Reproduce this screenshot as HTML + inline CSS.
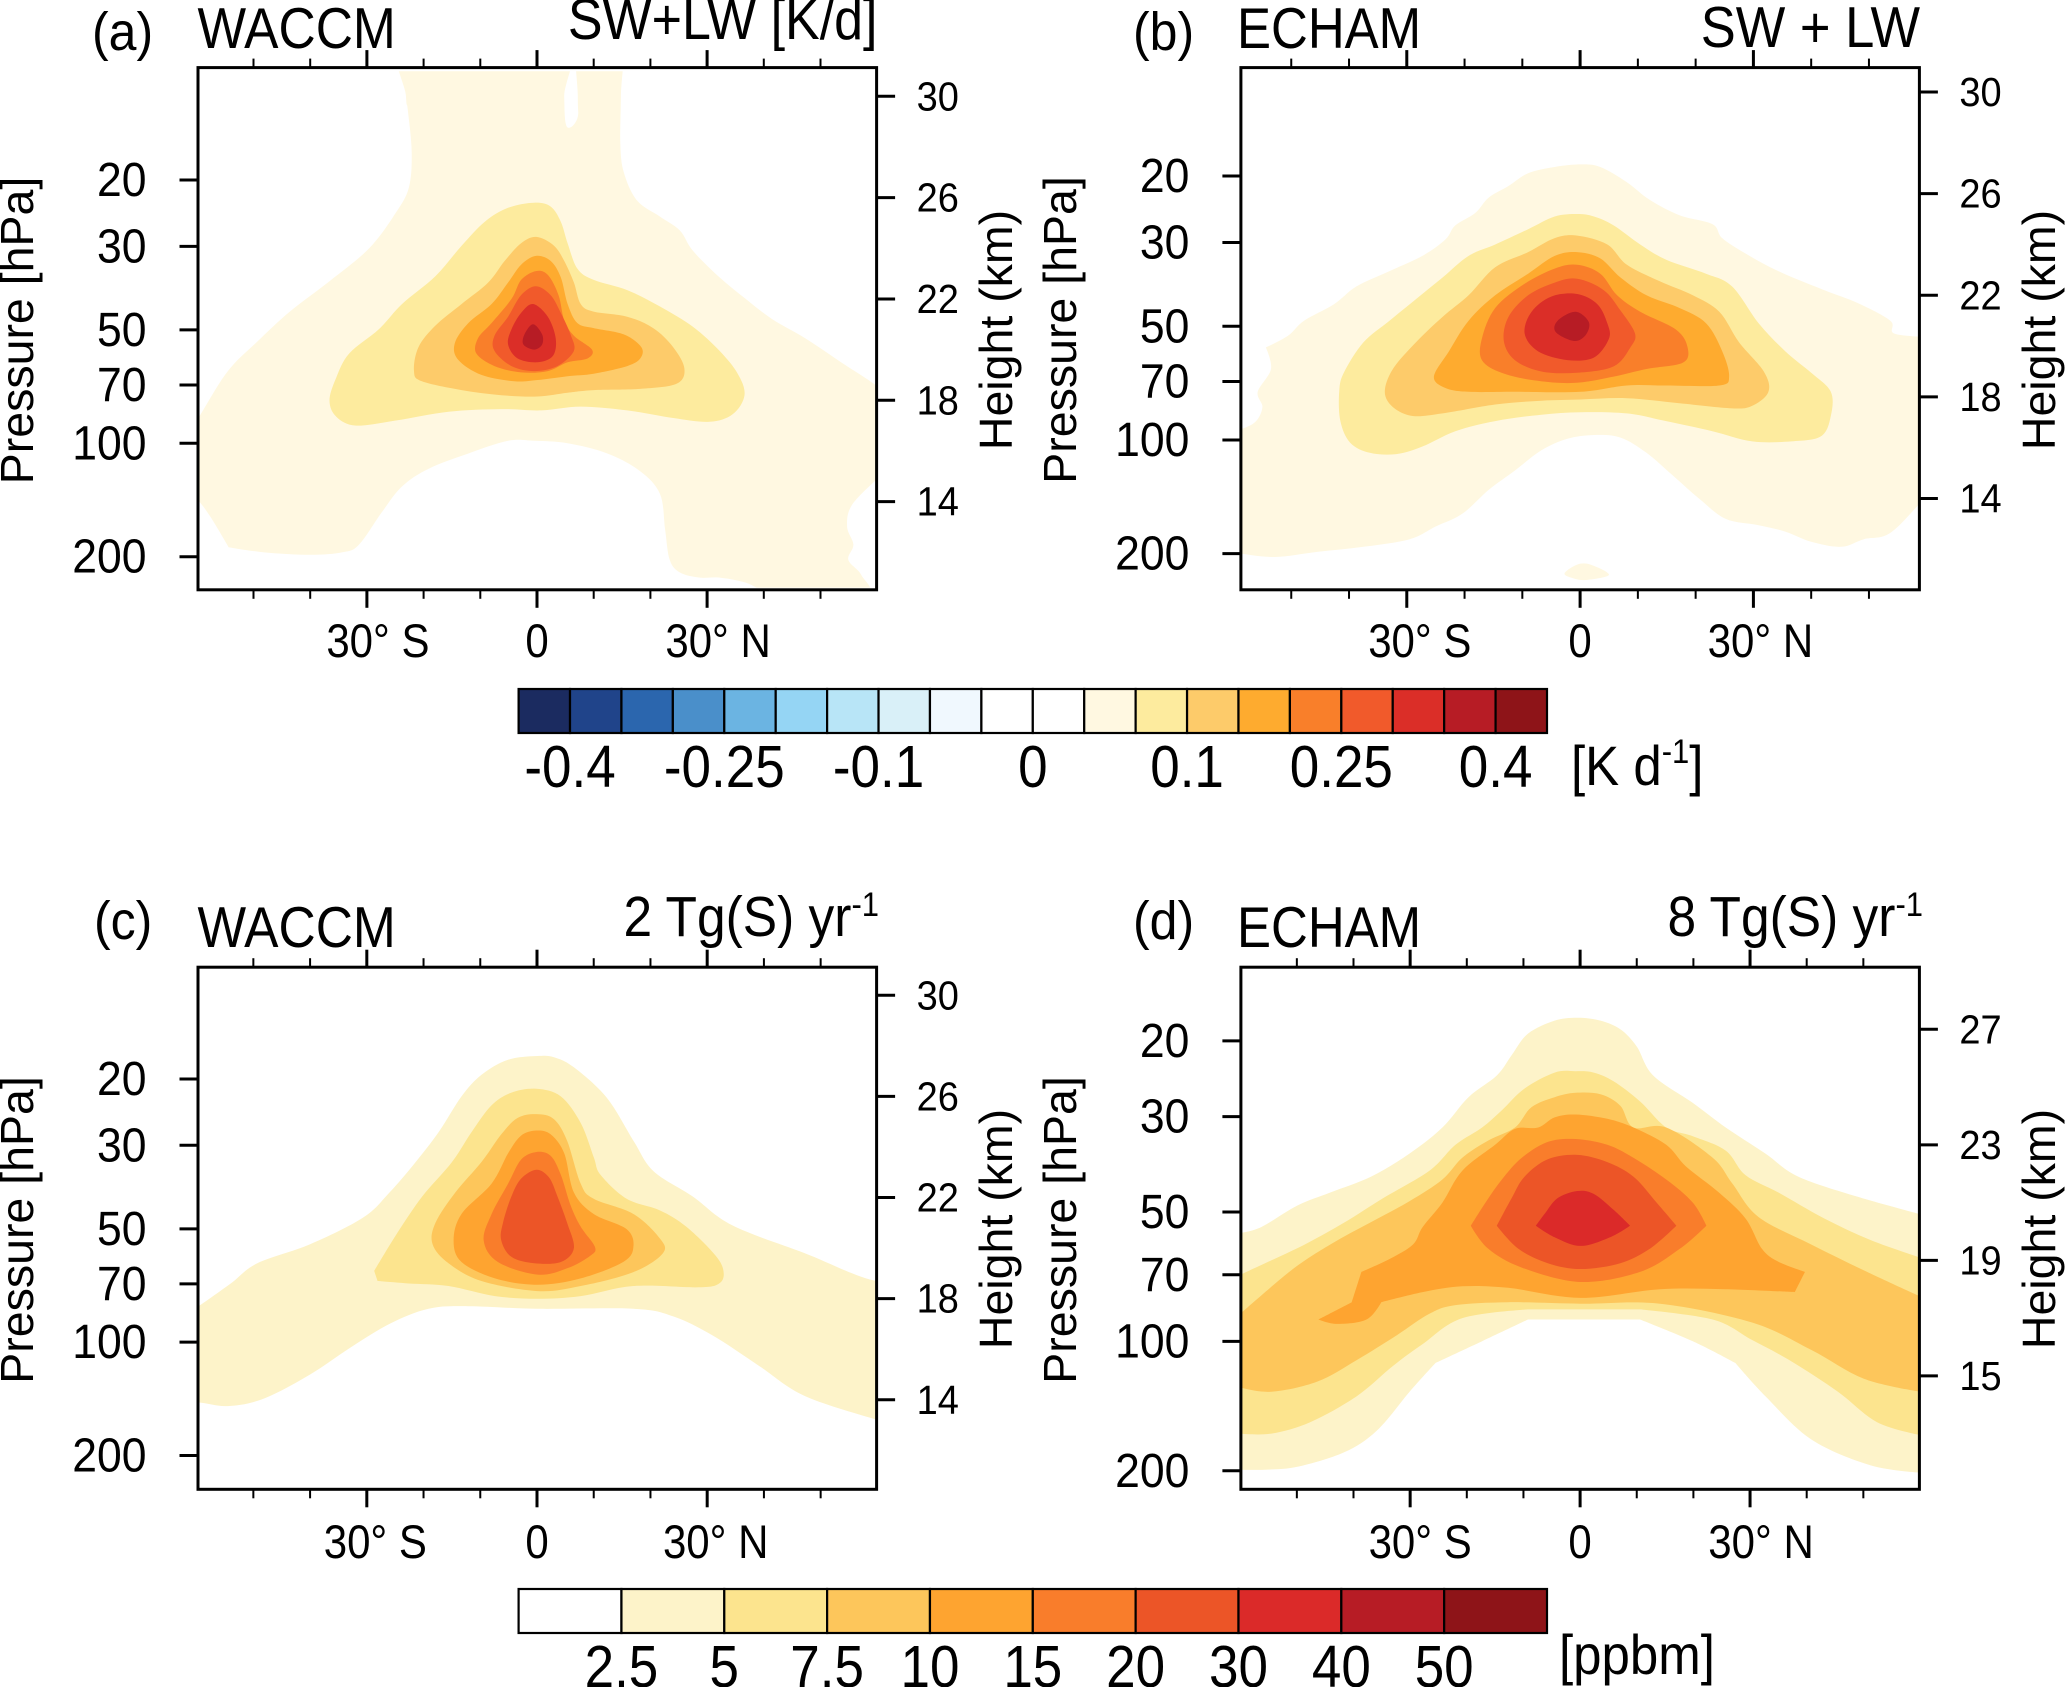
<!DOCTYPE html>
<html lang="en">
<head>
<meta charset="utf-8">
<title>WACCM and ECHAM heating rates and sulfur mixing ratio</title>
<style>
html,body{margin:0;padding:0;background:#fff;}
svg{display:block;}
text{font-family:"Liberation Sans",Arial,sans-serif;fill:#000;}
</style>
</head>
<body>
<svg id="figure" xmlns="http://www.w3.org/2000/svg" width="2067" height="1687" viewBox="0 0 2067 1687">
<rect x="0" y="0" width="2067" height="1687" fill="#fff"/>
<defs>
<clipPath id="clip-a"><rect x="198" y="71.3" width="678.6" height="516.3"/></clipPath>
<clipPath id="clip-b"><rect x="1240.9" y="67.6" width="678.5" height="522.2"/></clipPath>
<clipPath id="clip-c"><rect x="198" y="967.2" width="678.6" height="522.1"/></clipPath>
<clipPath id="clip-d"><rect x="1240.9" y="967.2" width="678.5" height="522.1"/></clipPath>
</defs>
<g id="plots"></g>

<text transform="translate(92 50) scale(1 1.08)" font-size="50">(a)</text>
<text transform="translate(197.5 48) scale(1 1.12)" font-size="51.5">WACCM</text>
<text transform="translate(877.5 39) scale(1 1.1)" font-size="52" text-anchor="end">SW+LW [K/d]</text>
<text transform="translate(1133 50) scale(1 1.08)" font-size="50">(b)</text>
<text transform="translate(1237 48) scale(1 1.12)" font-size="51">ECHAM</text>
<text transform="translate(1920 47) scale(1 1.1)" font-size="52.5" text-anchor="end">SW + LW</text>
<text transform="translate(94 939) scale(1 1.08)" font-size="50">(c)</text>
<text transform="translate(197.5 947) scale(1 1.12)" font-size="51.5">WACCM</text>
<text transform="translate(879 936) scale(1 1.1)" font-size="51.5" text-anchor="end">2 Tg(S) yr<tspan font-size="31" dy="-18">-1</tspan></text>
<text transform="translate(1133 939) scale(1 1.08)" font-size="50">(d)</text>
<text transform="translate(1237 947) scale(1 1.12)" font-size="51">ECHAM</text>
<text transform="translate(1923 936) scale(1 1.1)" font-size="51.5" text-anchor="end">8 Tg(S) yr<tspan font-size="31" dy="-18">-1</tspan></text>

<text transform="translate(33 330.5) rotate(-90)" font-size="46.5" text-anchor="middle">Pressure [hPa]</text>
<text transform="translate(1076 330) rotate(-90)" font-size="46.5" text-anchor="middle">Pressure [hPa]</text>
<text transform="translate(33 1230) rotate(-90)" font-size="46.5" text-anchor="middle">Pressure [hPa]</text>
<text transform="translate(1076 1230) rotate(-90)" font-size="46.5" text-anchor="middle">Pressure [hPa]</text>
<text transform="translate(1012 330) rotate(-90)" font-size="46.5" text-anchor="middle">Height (km)</text>
<text transform="translate(2055 330) rotate(-90)" font-size="46.5" text-anchor="middle">Height (km)</text>
<text transform="translate(1012 1229) rotate(-90)" font-size="46.5" text-anchor="middle">Height (km)</text>
<text transform="translate(2055 1229) rotate(-90)" font-size="46.5" text-anchor="middle">Height (km)</text>

<text transform="translate(1571 785) scale(1 1.1)" font-size="51">[K d<tspan font-size="31" dy="-20">-1</tspan><tspan dy="20">]</tspan></text>
<text transform="translate(1559 1674) scale(1 1.1)" font-size="51">[ppbm]</text>
</svg>

<script>
// ---- axis tick values ----
const latMajorTicks = [-30, 0, 30];
const latMinorTicks = [-50, -40, -20, -10, 10, 20, 40, 50];
const latTickLabels = ["30° S", "0", "30° N"];
const pressureTicks = [20, 30, 50, 70, 100, 200];
const heightTicksABC = [30, 26, 22, 18, 14];
const heightTicksD = [27, 23, 19, 15];

// ---- colour bar labels ----
const heatingBarLabels = ["-0.4", "-0.25", "-0.1", "0", "0.1", "0.25", "0.4"];
const sulfurBarLabels = ["2.5", "5", "7.5", "10", "15", "20", "30", "40", "50"];

// ---- palettes ----
const heatingColors = ["#1b2b60","#20448a","#2b66ae","#4a8fca","#6bb4e2","#95d5f4","#b8e5f7","#d9f0f8","#f0f8fe","#ffffff","#ffffff","#fff8e1","#fdeb9e","#fdcb6a","#feab2f","#f97f2a","#f15a2b","#db2e28","#b71c25","#8e1418"];
const sulfurColors = ["#ffffff","#fdf3c9","#fce48e","#fdc65b","#fea430","#f97d2b","#ec5527","#db2a29","#b71c25","#8e1418"];

// ---- contour boundaries, [latitude deg, height km, optional sharp-corner flag] ----
const aLevel1 = [[-23.5,33],[-23.1,30],[-22.8,29.5],[-22.1,27.8],[-22.6,26.4],[-24.9,25.4],[-29.6,24],[-36.6,22.7],[-43.6,21.5],[-49.4,20.3],[-54.7,19.1],[-60,17.2],[-64,15.9],[-64,14.9],[-60,14.1],[-57.6,13.4],[-54.4,12.2,1],[-48.3,12],[-40.1,11.9],[-34.3,12],[-31.4,12.3],[-27.3,13.6],[-23.8,14.6],[-19.1,15.3],[-12.1,15.9],[-5.1,16.4],[-0.5,16.4],[5.4,16.3],[12.4,15.9],[18.2,15.2],[21.7,14.3],[22.6,12.9],[23.4,11.7],[25.2,11.2],[28.7,11],[32.2,11],[36.8,10.8],[43,10.3],[57.9,10.3],[57.2,11.1],[54.9,11.7],[55.8,12.3],[54.7,13],[55.5,13.85],[60,14.9],[64,15.7],[64,17.7],[60,18.55],[54.3,19.4],[47.3,20.45],[41.5,21.2],[36.8,22],[32.2,22.85],[27.5,23.9],[25.2,24.7],[21.7,25.25],[17.6,25.9],[15.3,27],[14.7,28.15],[14.8,30],[14.9,33],[7.2,33],[7.2,30],[7.2,29.2],[6.1,28.8],[5.1,28.9],[4.8,30],[4.7,33]];
const aLevel2 = [[-0.5,25.8],[-5.1,25.6],[-9.2,25.05],[-13.3,24.1],[-17.9,22.9],[-23.8,21.8],[-27.9,20.8],[-33.1,19.85],[-35.4,18.9],[-36.6,18],[-35.4,17.35],[-31.9,17],[-24.9,17.2],[-15.6,17.55],[-6.3,17.65],[0.7,17.6],[7.7,17.75],[15.9,17.6],[24,17.3],[30.4,17.15],[34.5,17.45],[36.6,18.2],[35.4,19.05],[32.2,19.95],[27.5,20.9],[21.7,21.7],[15.9,22.35],[10,22.75],[7.1,23.2],[5.4,24.2],[4.2,25.05],[2.4,25.65]];
const aLevel3 = [[-0.1,24.45],[-2.8,24.2],[-5.7,23.5],[-8.6,22.65],[-13.3,21.8],[-17.9,20.95],[-20.9,20.1],[-21.7,19.15],[-20.3,18.75],[-13.3,18.4],[-6.3,18.2],[0.1,18.15],[5.4,18.3],[10,18.4],[18.2,18.45],[24.6,18.65],[26,19.25],[24,20.1],[20.5,20.85],[15.9,21.3],[10,21.5],[7.7,21.8],[6.5,22.65],[4.8,23.5],[3,24.1]];
const aLevel4 = [[-0.2,23.7],[-2.8,23.35],[-5.1,22.65],[-8,21.8],[-12.1,21.05],[-14.5,20.25],[-13.9,19.6],[-9.8,19],[-4,18.75],[0.1,18.8],[5.4,18.95],[10,19.05],[15.9,19.35],[18.2,19.65],[18.4,20.1],[15.3,20.6],[10,20.85],[7.1,21.05],[5.4,21.8],[4.2,22.85],[2.4,23.5]];
const aLevel5 = [[-0.2,23.1],[-2.8,22.75],[-4.5,22],[-8,21.05],[-10.4,20.45],[-10.7,19.85],[-7.5,19.35],[-2.8,19.1],[1.9,19.15],[5.4,19.5],[8.9,19.65],[9.7,20],[6.5,20.55],[4.8,21.15],[3.8,22.15],[1.9,22.95]];
const aLevel6 = [[-0.2,22.5],[-2.8,22.15],[-5.1,21.3],[-7.5,20.55],[-7.5,19.95],[-4.5,19.35],[-0.5,19.15],[3.6,19.35],[6.5,19.95],[5.9,20.6],[4.2,21.45],[2.4,22.15]];
const aLevel7 = [[-0.7,21.8],[-2.8,21.45],[-4.5,20.8],[-5.1,20.2],[-3.4,19.65],[0.1,19.5],[2.8,19.75],[3.3,20.45],[1.9,21.3]];
const aLevel8 = [[-0.7,21],[-2.2,20.6],[-2.4,20.2],[-0.5,20],[0.9,20.2],[0.9,20.6]];

const bLevel1 = [[0.1,27.15],[-4.4,27.05],[-9,26.8],[-12.4,26.3],[-15.8,25.85],[-18.1,25.25],[-21.6,24.75],[-23.3,24.2],[-27.3,23.55],[-33,22.95],[-38.7,22.35],[-42.6,21.65],[-47.8,21],[-50.6,20.4],[-54.4,19.95,1],[-53.5,19.1],[-55.8,18.2],[-55,17.6],[-56.3,17],[-59.5,16.65],[-63,16.3],[-63,11.9],[-59.5,11.85],[-52.9,11.7],[-45.5,11.9],[-37.5,12.1],[-29.5,12.4],[-25,12.9],[-20.4,13.4],[-15.8,14.35],[-11.3,15.1],[-6.7,15.9],[-2.2,16.35],[2.4,16.5],[7,16.4],[11.5,15.8],[16.1,14.9],[20.6,14],[25.2,13.2],[30.9,12.95],[35.5,12.7],[40,12.3],[45.2,12.1],[49.1,12.4],[53.7,12.65],[59.5,14],[63,15],[63,20.2],[59.5,20.35],[54.3,20.5],[53.7,21],[48,21.7],[42.3,22.2],[34.3,22.95],[28.6,23.65],[24.6,24.25],[22.9,24.8],[17.2,25.15],[12.1,25.75],[8.1,26.45],[3.5,27.05]];
const bBlob = [[-2.7,11.05],[-0.5,11.4],[1.8,11.4],[5,11],[1.3,10.8],[-1,10.85]];
const bLevel2 = [[-0.5,25.2],[-4.4,25.1],[-9,24.6],[-14.7,24],[-19.3,23.55],[-23.8,22.7],[-28.4,21.85],[-33,21],[-37.5,20.15],[-40.9,18.95],[-41.7,18.2],[-41.5,17.05],[-39.8,16.2],[-36.4,15.8],[-31.8,15.75],[-27.3,16.05],[-21.6,16.65],[-14.7,17.05],[-6.7,17.3],[0.1,17.4],[8.1,17.35],[14.9,17.05],[22.9,16.65],[29.8,16.25],[36.6,16.25],[41.7,16.45],[43.4,17.25],[43.4,18.2],[40,18.95],[35.5,19.8],[30.9,20.9],[26.3,22.35],[21.8,22.85],[14.9,23.4],[10.4,24],[5.8,24.75],[2.4,25.1]];
const bLevel3 = [[-0.5,24.35],[-4.4,24.25],[-9,23.7],[-14.7,23.1],[-19.3,22],[-23.8,21.15],[-28.4,20.15],[-32.4,19.1],[-33.8,18.2],[-32.4,17.6],[-29,17.25],[-23.8,17.35],[-14.7,17.7],[-6.7,17.85],[0.1,17.9],[8.1,17.95],[17.2,17.75],[26.3,17.55],[29.8,17.65],[32.6,18.2],[31.8,19],[27.5,20.15],[24.1,21.35],[19.5,22],[13.8,22.55],[8.1,23.2],[4.7,24]];
const bLevel4 = [[-0.5,23.7],[-4.4,23.55],[-9,22.85],[-14.7,22],[-19.3,21],[-22.7,19.8],[-25.3,18.8],[-23.3,18.35],[-19.3,18.2],[-11.3,18.2],[0.1,18.2],[8.1,18.45],[14.9,18.45],[24.1,18.45],[25.8,18.8],[24.6,19.8],[21.8,20.9],[17.2,21.5],[11.5,22],[7,22.7],[3.5,23.45]];
const bLevel5 = [[-0.5,23.2],[-4.4,23.05],[-9.6,22.45],[-14.7,21.5],[-17,20.3],[-17,19.45],[-13.6,18.95],[-7.9,18.65],[-1,18.55],[5.8,18.8],[11.5,19.1],[17.8,19.35],[18.6,19.95],[16.6,20.65],[10.4,21.35],[6.4,22],[3.5,22.85]];
const bLevel6 = [[-0.5,22.65],[-4.4,22.5],[-9,22],[-12.4,21.15],[-13.2,20.2],[-11.3,19.45],[-6.7,19],[-0.5,18.95],[5.8,19.2],[8.7,19.95],[9.5,20.5],[7,21.4],[4.1,22.2]];
const bLevel7 = [[-0.5,22.05],[-5,21.95],[-8.4,21.35],[-9.6,20.5],[-7.3,19.8],[-2.2,19.45],[2.4,19.55],[5,20.3],[4.7,20.9],[3,21.65]];
const bLevel8 = [[-0.8,21.35],[-3.9,21],[-4.2,20.55],[-1,20.2],[1,20.45],[1.5,20.95]];

const cLevel1 = [[0.1,27.6],[-5.1,27.45],[-9.8,26.85],[-13.3,26],[-17.3,24.6],[-21.4,23.4],[-26,22.2],[-30.7,21.2],[-40,20.15],[-49.3,19.4],[-54,18.6],[-60,17.65],[-66,16.8],[-66,13.9],[-60,13.9],[-54.5,13.75],[-48.1,14.05],[-40,15],[-33,16.05],[-26,17],[-19.1,17.6],[-12.1,17.7],[0.1,17.6],[17,17.6],[24,17.3],[30.9,16.55],[39.1,15.35],[47.2,14.15],[60,13.2],[66,12.8],[66,19.3],[60,18.7],[47.2,19.8],[34.4,20.9],[27.4,22.05],[20.5,23.05],[17,24.25],[12.3,25.95],[6.5,27.15],[3,27.55]];
const cLevel2 = [[-0.1,26.3],[-4.5,26.15],[-8,25.65],[-11.5,24.6],[-15,23.4],[-20.2,22.05],[-24.9,20.5],[-28.7,19.1,1],[-28.1,18.7,1],[-22.6,18.6],[-15.6,18.5],[-7.4,18.1],[0.1,18],[7.7,18.1],[17,18.5],[28.6,18.45],[32.1,18.6],[32.9,19.05],[31.5,19.7],[26.3,20.85],[21.6,21.5],[15.8,21.95],[11.2,22.9],[10,23.6],[7.7,24.95],[4.2,26]];
const cLevel3 = [[-0.1,25.3],[-3.4,25.15],[-6.3,24.5],[-9.8,23.4],[-14.4,22.2],[-17.9,21],[-18.4,20.15],[-15.6,19.4],[-9.8,18.7],[0.1,18.3],[7.7,18.5],[17,19.05],[22.2,19.8],[21.6,20.4],[17,21.35],[10,21.95],[7.7,22.55],[5.3,24.25],[3,25.1]];
const cLevel4 = [[-0.1,24.65],[-2.8,24.45],[-5.1,23.75],[-8,22.55],[-13.3,21.35],[-14.7,20.3],[-13.3,19.45],[-7.4,18.8],[0.1,18.55],[7.7,18.8],[15.2,19.45],[17,20.05],[15.8,20.75],[10,21.35],[6.5,22.2],[4.8,23.75],[2.4,24.5]];
const cLevel5 = [[-0.1,23.8],[-2.8,23.5],[-5.1,22.55],[-8,21.35],[-9.4,20.3],[-6.9,19.45],[0.1,18.95],[5.3,19.2],[9.4,19.7],[10.2,20.05],[7.7,20.85],[5.9,21.7],[4.2,22.9],[2.4,23.65]];
const cLevel6 = [[-0.1,23.1],[-2.8,22.75],[-4.5,22.05],[-6,21],[-6.3,20.3],[-4.5,19.65],[-0.5,19.4],[4.2,19.45],[6.5,20],[5.3,21],[3.6,22.05],[2.1,22.8]];

const dLevel1 = [[-0.5,27.4],[-4.5,27.3],[-9.2,26.85],[-12.1,26.1],[-14.7,25.4],[-19.7,24.65],[-24.3,23.6],[-30.1,22.7],[-36.9,21.9],[-44.1,21.35],[-49.9,20.9],[-56.3,20.15],[-60,19.95,1],[-60,11.75,1],[-55.7,11.75],[-49.9,11.85],[-41.7,12.35],[-35.9,13.1],[-30.1,14.45],[-25.5,15.45,1],[-17.3,16.2],[-9.2,16.95,1],[10.6,16.95,1],[19.9,16.2],[27.4,15.45,1],[32.7,14.3],[40.8,12.8],[51.3,11.9],[60,11.65,1],[60,20.6,1],[49,21.2],[38.5,21.9],[32.7,22.7],[25.7,23.6],[19.9,24.45],[12.9,25.4],[10,26.4],[7.1,27],[3.6,27.3]];
const dLevel2 = [[-0.8,25.55],[-4.5,25.5],[-9.8,24.95],[-13.8,24.2],[-17.3,23.6],[-22,23],[-26.6,22.1],[-34.8,21.15],[-41.7,20.3],[-48.1,19.6],[-53.4,19.1],[-60,18.5,1],[-60,13,1],[-54.5,13],[-47.6,13.4],[-39.4,14.3],[-33,15.35],[-27.8,16.1],[-20.8,17],[-9.2,17.3,1],[10.6,17.3,1],[23.4,16.95],[30.3,16.25],[37.3,15.5],[45.5,14.45],[52.4,13.4],[60,12.95,1],[60,19.1,1],[51.3,19.7],[43.1,20.45],[35,21.35],[29.2,21.95],[25.7,22.8],[19.9,23.3],[15.2,23.6],[10.6,24.5],[5.9,25.2],[2.4,25.5]];
const dLevel3 = [[-0.8,24.8],[-4.5,24.65],[-8.6,24.3],[-11.5,23.6],[-16.2,23.15],[-20.8,22.55],[-24.3,21.8],[-30.1,21.05],[-37.1,20.3],[-44.1,19.55],[-51,18.65],[-60,17.15,1],[-60,14.6,1],[-54.5,14.45],[-46.4,14.8],[-39.4,15.55],[-32.4,16.4],[-26.6,17.15],[-22,17.45],[-12.7,17.55],[0.1,17.5],[14.1,17.5],[30.3,16.85],[40.8,15.9],[50.1,14.9],[60,14.45,1],[60,17.75,1],[50.1,18.65],[40.8,19.55],[31.5,20.5],[26.9,21.65],[23.4,22.55],[15.2,23.6],[9.4,23.6],[7.1,24.35],[3.6,24.75]];
const dLevel4 = [[-0.8,24.05],[-4.5,23.95],[-7.4,23.6],[-11.5,23.55],[-15,23],[-20.8,22.1],[-24.3,21],[-27.8,20.15],[-29.5,19.55],[-33.6,19.05],[-38.6,18.6,1],[-40.3,17.55,1],[-46.2,16.95,1],[-42.9,16.8],[-37.7,16.95],[-35.1,17.55,1],[-27.8,17.9],[-20.8,18.1],[-12.7,18.05],[0.1,17.7],[14.1,18],[25.7,18],[37.9,17.9,1],[39.7,18.6,1],[35,18.95],[32.1,19.4],[29.2,20.45],[24.5,21.35],[18.7,22.25],[15.2,23],[9.4,23.6],[4.8,23.9]];
const dLevel5 = [[-0.8,23.2],[-5.7,23.1],[-10.3,22.55],[-13.8,21.8],[-16.7,21],[-19.3,20.2,1],[-16.2,19.4],[-10.3,18.75],[0.1,18.25],[10.6,18.6],[17.6,19.4],[22.3,20.2,1],[19.9,21],[15.2,21.8],[9.4,22.55],[4.8,23]];
const dLevel6 = [[-0.5,22.65],[-5.7,22.5],[-9.8,21.9],[-12.1,21.15],[-14.7,20.2,1],[-10.9,19.4],[-5.7,18.9],[0.1,18.7],[7.1,18.9],[12.3,19.4],[17,20.2,1],[13.5,21],[9.4,21.9],[4.8,22.4]];
const dLevel7 = [[-0.5,21.4],[-4,21.15],[-6.3,20.6],[-7.8,20.2,1],[-4.5,19.8],[0.1,19.5],[5.3,19.8],[8.8,20.2,1],[5.9,20.75],[2.4,21.3]];

// ---- draw ----
const NS = "http://www.w3.org/2000/svg";
const root = document.getElementById("plots");
function svgEl(tag){ return document.createElementNS(NS, tag); }

function tickLine(parent, x1, y1, x2, y2, width){
  const el = svgEl("line");
  
  
  el.setAttribute("x1", x1); el.setAttribute("y1", y1);
  el.setAttribute("x2", x2); el.setAttribute("y2", y2);
  el.setAttribute("stroke", "#000");
  el.setAttribute("stroke-width", width);
  parent.appendChild(el);
}
function label(parent, name, x, y, str, size, anchor, stretch){
  const el = svgEl("text");
  
  
  el.setAttribute("transform", "translate(" + x + " " + y + ") scale(1 " + stretch + ")");
  el.setAttribute("font-size", size);
  el.setAttribute("text-anchor", anchor);
  el.textContent = str;
  parent.appendChild(el);
}
function closedPath(pts){
  const n = pts.length;
  const tangent = i => {
    if (pts[i][2]) return [0, 0];
    const a = pts[(i - 1 + n) % n], b = pts[(i + 1) % n];
    return [(b[0] - a[0]) / 6, (b[1] - a[1]) / 6];
  };
  let d = "M" + pts[0][0].toFixed(1) + " " + pts[0][1].toFixed(1);
  for (let i = 0; i < n; i++){
    const j = (i + 1) % n;
    const p1 = pts[i], p2 = pts[j], t1 = tangent(i), t2 = tangent(j);
    d += "C" + (p1[0] + t1[0]).toFixed(1) + " " + (p1[1] + t1[1]).toFixed(1) + " " +
         (p2[0] - t2[0]).toFixed(1) + " " + (p2[1] - t2[1]).toFixed(1) + " " +
         p2[0].toFixed(1) + " " + p2[1].toFixed(1);
  }
  return d + "Z";
}

const warm = ["#fff8e1","#fdeb9e","#fdcb6a","#feab2f","#f97f2a","#f15a2b","#db2e28","#b71c25"];
const warm2 = ["#fdf3c9","#fce48e","#fdc65b","#fea430","#f97d2b","#ec5527","#db2a29"];

function drawPanel(cfg){
  const g = svgEl("g");
  
  
  root.appendChild(g);

  const xLat = lat => cfg.x0 + lat * cfg.pxPerDeg;
  const yKm = km => cfg.yKmRef + (cfg.kmRef - km) * cfg.pxPerKm;
  const yP = p => cfg.y20 + Math.log(p / 20) * cfg.pxPerLnP;

  const contours = svgEl("g");
  
  
  contours.setAttribute("clip-path", "url(#clip-" + cfg.id + ")");
  g.appendChild(contours);

  cfg.levels.forEach(function(level){
    const el = svgEl("path");
    
    
    el.setAttribute("fill", cfg.palette[level.band]);
    el.setAttribute("d", closedPath(level.pts.map(p => [xLat(p[0]), yKm(p[1]), p[2]])));
    contours.appendChild(el);
  });

  const frame = svgEl("rect");
  
  
  frame.setAttribute("x", cfg.left); frame.setAttribute("y", cfg.top);
  frame.setAttribute("width", cfg.right - cfg.left); frame.setAttribute("height", cfg.bottom - cfg.top);
  frame.setAttribute("fill", "none"); frame.setAttribute("stroke", "#000"); frame.setAttribute("stroke-width", 3);
  g.appendChild(frame);

  latMajorTicks.forEach(function(lat, i){
    tickLine(g, xLat(lat), cfg.top, xLat(lat), cfg.top - 17.5, 3);
    tickLine(g, xLat(lat), cfg.bottom, xLat(lat), cfg.bottom + 18, 3);
    const lx = lat < 0 ? xLat(lat) + cfg.labelOffS : (lat > 0 ? xLat(lat) + cfg.labelOffN : xLat(lat));
    label(g, "latitude-tick-label", lx, cfg.latLabelY, latTickLabels[i], 42, "middle", 1.12);
  });
  latMinorTicks.forEach(function(lat){
    tickLine(g, xLat(lat), cfg.top, xLat(lat), cfg.top - 9, 2);
    tickLine(g, xLat(lat), cfg.bottom, xLat(lat), cfg.bottom + 9, 2);
  });
  pressureTicks.forEach(function(p){
    tickLine(g, cfg.left, yP(p), cfg.left - 18.5, yP(p), 3);
    label(g, "pressure-tick-label", cfg.left - 51.5, yP(p) + 16, String(p), 44.5, "end", 1.08);
  });
  cfg.heightTicks.forEach(function(km){
    tickLine(g, cfg.right, yKm(km), cfg.right + 18.5, yKm(km), 3);
    label(g, "height-tick-label", cfg.right + 40, yKm(km) + 14, String(km), 38, "start", 1.08);
  });
}

drawPanel({id:"a",left:198,right:876.6,top:67.6,bottom:589.8,x0:537,pxPerDeg:5.67,kmRef:30,yKmRef:96.3,pxPerKm:25.33,y20:180,pxPerLnP:163.6,latLabelY:657,labelOffS:11,labelOffN:11,palette:warm,heightTicks:heightTicksABC,
  levels:[{band:0,pts:aLevel1},{band:1,pts:aLevel2},{band:2,pts:aLevel3},{band:3,pts:aLevel4},{band:4,pts:aLevel5},{band:5,pts:aLevel6},{band:6,pts:aLevel7},{band:7,pts:aLevel8}]});
drawPanel({id:"b",left:1240.9,right:1919.4,top:67.6,bottom:589.8,x0:1580.1,pxPerDeg:5.777,kmRef:30,yKmRef:92,pxPerKm:25.41,y20:176,pxPerLnP:164,latLabelY:657,labelOffS:13,labelOffN:7,palette:warm,heightTicks:heightTicksABC,
  levels:[{band:0,pts:bLevel1},{band:0,pts:bBlob},{band:1,pts:bLevel2},{band:2,pts:bLevel3},{band:3,pts:bLevel4},{band:4,pts:bLevel5},{band:5,pts:bLevel6},{band:6,pts:bLevel7},{band:7,pts:bLevel8}]});
drawPanel({id:"c",left:198,right:876.6,top:967.2,bottom:1489.3,x0:537,pxPerDeg:5.673,kmRef:30,yKmRef:995.3,pxPerKm:25.28,y20:1079,pxPerLnP:163.5,latLabelY:1558,labelOffS:8.5,labelOffN:8.5,palette:warm2,heightTicks:heightTicksABC,
  levels:[{band:0,pts:cLevel1},{band:1,pts:cLevel2},{band:2,pts:cLevel3},{band:3,pts:cLevel4},{band:4,pts:cLevel5},{band:5,pts:cLevel6}]});
drawPanel({id:"d",left:1240.9,right:1919.4,top:967.2,bottom:1489.3,x0:1580.1,pxPerDeg:5.665,kmRef:27,yKmRef:1029.3,pxPerKm:28.88,y20:1040.9,pxPerLnP:186.7,latLabelY:1558,labelOffS:10,labelOffN:11,palette:warm2,heightTicks:heightTicksD,
  levels:[{band:0,pts:dLevel1},{band:1,pts:dLevel2},{band:2,pts:dLevel3},{band:3,pts:dLevel4},{band:4,pts:dLevel5},{band:5,pts:dLevel6},{band:6,pts:dLevel7}]});

function drawBar(id, colors, labels, step, firstEdge, top, bottom, baseline, size){
  const g = svgEl("g");
  
  
  root.appendChild(g);
  const left = 518.6, right = 1547;
  const w = (right - left) / colors.length;
  colors.forEach(function(c, i){
    const el = svgEl("rect");
    
    
    el.setAttribute("x", left + i * w); el.setAttribute("y", top);
    el.setAttribute("width", w); el.setAttribute("height", bottom - top);
    el.setAttribute("fill", c);
    el.setAttribute("stroke", "#000"); el.setAttribute("stroke-width", 2.2);
    g.appendChild(el);
  });
  labels.forEach(function(str, i){
    label(g, id + "-tick-label", left + (firstEdge + i * step) * w, baseline, str, size, "middle", 1.12);
  });
}
drawBar("heating-colorbar", heatingColors, heatingBarLabels, 3, 1, 689, 733, 787, 53);
drawBar("sulfur-colorbar", sulfurColors, sulfurBarLabels, 1, 1, 1589, 1633, 1687, 53);
</script>
</body>
</html>
